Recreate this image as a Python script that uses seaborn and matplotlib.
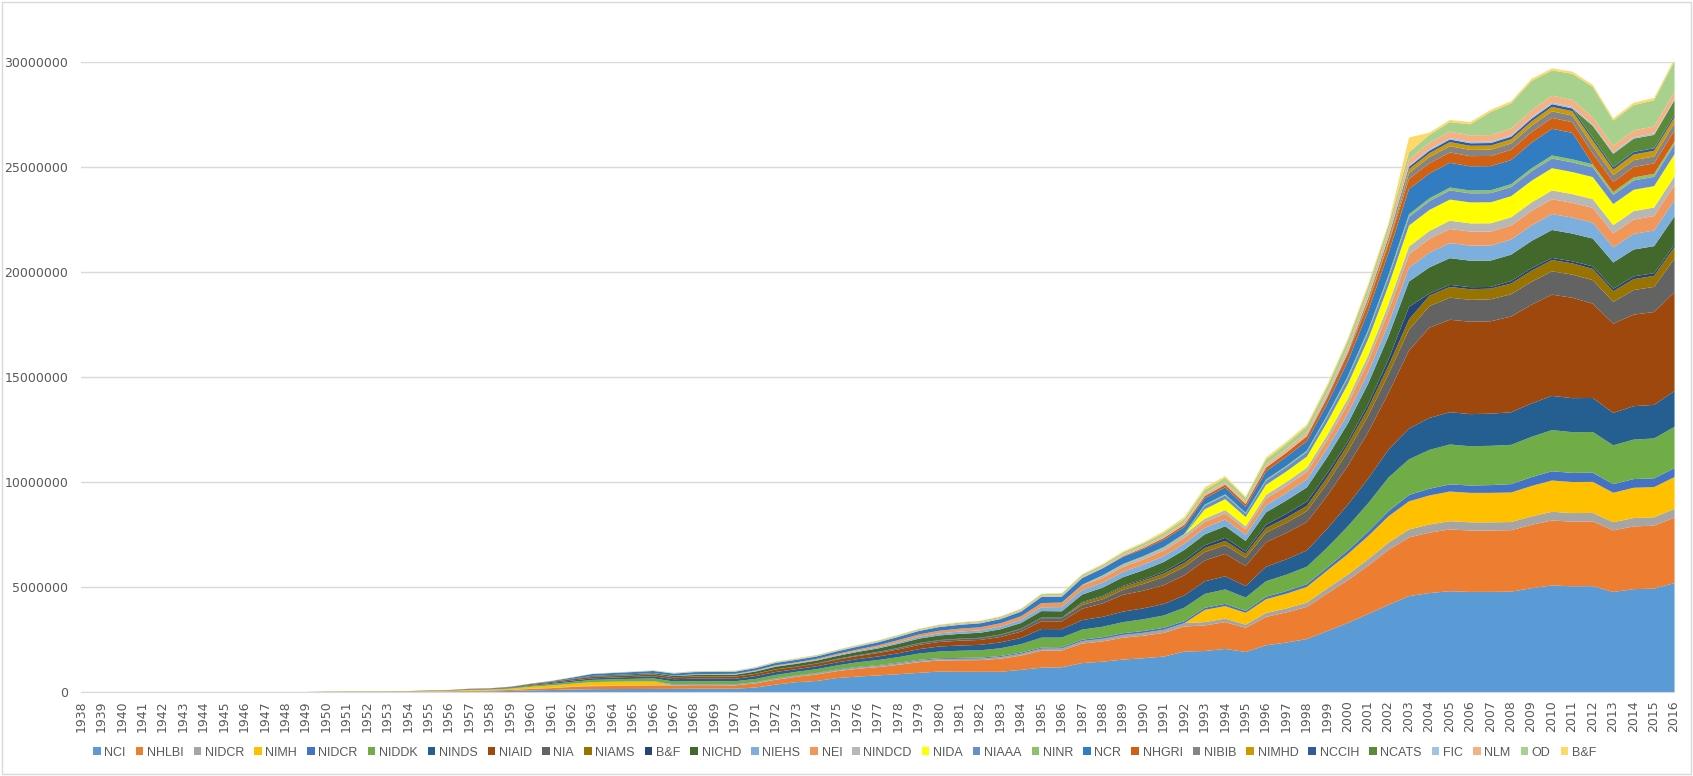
import matplotlib
matplotlib.use("Agg")
import matplotlib.pyplot as plt
from matplotlib.patches import Rectangle
from matplotlib.ticker import FuncFormatter
import seaborn as sns
import pandas as pd

# appropriations by institute, $ millions, 1938-2016 (one row per decade)
years = list(range(1938, 2017))

nci = [0, 0, 0, 0, 0, 0, 0, 0, 0, 0,
       0, 8, 20, 20, 18, 18, 20, 30, 36, 48,
       56, 75, 105, 120, 145, 160, 165, 168, 172, 175,
       183, 185, 181, 240, 379, 492, 551, 691, 762, 815,
       872, 937, 998, 989, 986, 987, 1081, 1183, 1203, 1403,
       1469, 1570, 1634, 1714, 1952, 1978, 2077, 1930, 2248, 2382,
       2547, 2927, 3314, 3741, 4177, 4592, 4736, 4825, 4791, 4792,
       4805, 4969, 5098, 5059, 5067, 4789, 4923, 4950, 5214]
nhlbi = [0, 0, 0, 0, 0, 0, 0, 0, 0, 0,
         0, 5, 11, 10, 10, 12, 15, 20, 22, 34,
         35, 46, 68, 88, 120, 140, 145, 148, 152, 158,
         165, 162, 160, 195, 232, 256, 309, 328, 370, 397,
         448, 510, 527, 549, 558, 624, 680, 805, 800, 930,
         965, 1040, 1072, 1127, 1194, 1214, 1277, 1150, 1355, 1433,
         1531, 1793, 2030, 2300, 2620, 2793, 2878, 2941, 2922, 2922,
         2925, 3015, 3096, 3076, 3076, 2933, 2988, 2996, 3115]
nidcr = [0, 0, 0, 0, 0, 0, 0, 0, 0, 0,
         0, 1, 2, 2, 2, 2, 2, 3, 3, 6,
         6, 8, 12, 15, 17, 25, 27, 28, 30, 29,
         30, 30, 31, 37, 45, 45, 47, 50, 57, 63,
         67, 71, 68, 69, 72, 79, 88, 100, 97, 120,
         125, 134, 139, 150, 161, 162, 167, 155, 182, 191,
         203, 234, 269, 306, 344, 378, 390, 393, 391, 389,
         390, 402, 413, 410, 410, 389, 398, 398, 414]
nimh = [0, 0, 0, 0, 0, 0, 0, 0, 0, 0,
        0, 6, 9, 10, 10, 11, 12, 18, 20, 35,
        39, 50, 85, 110, 130, 165, 170, 175, 178, 0,
        0, 0, 0, 0, 0, 0, 0, 0, 0, 0,
        0, 0, 0, 0, 0, 0, 0, 0, 0, 0,
        0, 0, 0, 0, 0, 583, 596, 560, 661, 702,
        750, 861, 978, 1106, 1254, 1342, 1381, 1412, 1403, 1405,
        1405, 1450, 1489, 1478, 1478, 1401, 1441, 1440, 1519]
nidcr_b = [0, 0, 0, 0, 0, 0, 0, 0, 0, 0,
           0, 0, 0, 0, 0, 0, 0, 0, 0, 0,
           0, 0, 0, 3, 5, 8, 10, 12, 14, 25,
           20, 20, 20, 22, 24, 25, 27, 28, 30, 32,
           35, 38, 40, 42, 45, 48, 52, 56, 58, 65,
           75, 80, 85, 90, 95, 100, 105, 95, 115, 125,
           130, 140, 170, 210, 250, 300, 320, 340, 350, 370,
           400, 420, 440, 435, 435, 410, 415, 415, 425]
niddk = [0, 0, 0, 0, 0, 0, 0, 0, 0, 0,
         0, 2, 4, 5, 6, 7, 8, 12, 12, 15,
         20, 31, 55, 71, 88, 103, 114, 122, 129, 138,
         143, 144, 146, 153, 160, 168, 179, 196, 221, 240,
         265, 300, 320, 340, 350, 370, 400, 470, 460, 480,
         500, 530, 560, 590, 640, 660, 690, 630, 740, 780,
         830, 950, 1150, 1350, 1600, 1700, 1850, 1900, 1870, 1870,
         1870, 1920, 1960, 1940, 1940, 1850, 1880, 1900, 1970]
ninds = [0, 0, 0, 0, 0, 0, 0, 0, 0, 0,
         0, 1, 2, 3, 4, 4, 4, 7, 10, 19,
         21, 29, 35, 50, 63, 74, 81, 90, 100, 110,
         120, 120, 115, 135, 140, 126, 142, 143, 150, 170,
         185, 210, 240, 250, 260, 280, 300, 410, 400, 450,
         470, 500, 520, 545, 580, 600, 620, 550, 690, 730,
         780, 900, 1030, 1180, 1330, 1470, 1520, 1540, 1530, 1530,
         1550, 1590, 1630, 1620, 1620, 1540, 1590, 1600, 1700]
niaid = [0, 0, 0, 0, 0, 0, 0, 0, 0, 0,
         0, 1, 2, 3, 4, 4, 5, 7, 8, 13,
         15, 19, 40, 43, 56, 69, 66, 73, 77, 85,
         92, 94, 102, 103, 117, 112, 120, 130, 145, 165,
         180, 200, 215, 230, 233, 260, 300, 370, 370, 545,
         640, 800, 840, 900, 960, 990, 1070, 950, 1170, 1260,
         1350, 1570, 1850, 2200, 2700, 3710, 4300, 4400, 4400, 4400,
         4560, 4700, 4820, 4780, 4490, 4250, 4360, 4420, 4710]
nia = [0, 0, 0, 0, 0, 0, 0, 0, 0, 0,
       0, 0, 0, 0, 0, 0, 0, 0, 0, 0,
       0, 0, 0, 0, 0, 0, 0, 0, 0, 0,
       0, 0, 0, 0, 0, 0, 0, 20, 30, 35,
       56, 69, 70, 76, 82, 94, 114, 144, 150, 177,
       195, 239, 323, 386, 400, 401, 417, 390, 454, 486,
       519, 597, 687, 786, 895, 994, 1025, 1052, 1040, 1047,
       1062, 1093, 1110, 1102, 1120, 1040, 1171, 1198, 1600]
niams = [0, 0, 0, 0, 0, 0, 0, 0, 0, 0,
         0, 0, 0, 0, 0, 0, 0, 0, 0, 0,
         0, 0, 0, 0, 0, 0, 0, 0, 0, 0,
         0, 0, 0, 0, 0, 0, 0, 0, 0, 0,
         0, 0, 0, 0, 0, 0, 0, 0, 0, 103,
         126, 140, 152, 168, 190, 193, 200, 190, 220, 230,
         250, 283, 316, 357, 403, 485, 500, 510, 505, 508,
         509, 524, 539, 534, 534, 507, 520, 522, 542]
bf = [0, 0, 0, 0, 0, 0, 0, 0, 0, 0,
      0, 0, 0, 0, 0, 0, 0, 5, 5, 8,
      8, 10, 10, 15, 20, 20, 20, 15, 15, 10,
      10, 8, 8, 10, 10, 12, 12, 15, 15, 18,
      20, 20, 20, 20, 20, 20, 25, 30, 30, 35,
      40, 50, 60, 80, 120, 130, 150, 120, 150, 200,
      200, 200, 150, 200, 300, 600, 100, 100, 100, 80,
      120, 125, 100, 100, 125, 120, 130, 130, 130]
nichd = [0, 0, 0, 0, 0, 0, 0, 0, 0, 0,
         0, 0, 0, 0, 0, 0, 0, 0, 0, 0,
         0, 0, 0, 0, 5, 26, 37, 44, 55, 63,
         70, 76, 83, 105, 126, 130, 136, 142, 154, 165,
         190, 210, 220, 230, 240, 250, 270, 310, 300, 360,
         390, 410, 440, 470, 500, 520, 550, 500, 595, 630,
         680, 760, 860, 975, 1110, 1210, 1245, 1270, 1260, 1255,
         1255, 1295, 1330, 1320, 1320, 1250, 1280, 1286, 1340]
niehs = [0, 0, 0, 0, 0, 0, 0, 0, 0, 0,
         0, 0, 0, 0, 0, 0, 0, 0, 0, 0,
         0, 0, 0, 0, 0, 0, 0, 0, 5, 10,
         15, 18, 20, 24, 28, 30, 34, 40, 50, 60,
         75, 85, 100, 110, 115, 130, 150, 180, 200, 220,
         240, 250, 270, 280, 300, 310, 320, 290, 340, 360,
         380, 420, 470, 530, 600, 660, 700, 720, 720, 715,
         720, 740, 760, 760, 760, 720, 740, 745, 770]
nei = [0, 0, 0, 0, 0, 0, 0, 0, 0, 0,
       0, 0, 0, 0, 0, 0, 0, 0, 0, 0,
       0, 0, 0, 0, 0, 0, 0, 0, 0, 0,
       20, 24, 25, 30, 37, 40, 46, 55, 65, 85,
       105, 115, 125, 135, 145, 155, 170, 200, 200, 220,
       225, 235, 245, 260, 275, 280, 290, 260, 315, 335,
       355, 400, 450, 510, 580, 633, 655, 670, 665, 667,
       667, 689, 703, 702, 702, 666, 684, 689, 716]
nidcd = [0, 0, 0, 0, 0, 0, 0, 0, 0, 0,
         0, 0, 0, 0, 0, 0, 0, 0, 0, 0,
         0, 0, 0, 0, 0, 0, 0, 0, 0, 0,
         0, 0, 0, 0, 0, 0, 0, 0, 0, 0,
         0, 0, 0, 0, 0, 0, 0, 0, 0, 0,
         95, 110, 120, 130, 150, 155, 160, 145, 175, 185,
         200, 230, 265, 300, 340, 370, 380, 395, 392, 394,
         394, 407, 419, 416, 416, 394, 403, 406, 423]
nida = [0, 0, 0, 0, 0, 0, 0, 0, 0, 0,
        0, 0, 0, 0, 0, 0, 0, 0, 0, 0,
        0, 0, 0, 0, 0, 0, 0, 0, 0, 0,
        0, 0, 0, 0, 0, 0, 0, 0, 0, 0,
        0, 0, 0, 0, 0, 0, 0, 0, 0, 0,
        0, 0, 0, 0, 0, 450, 520, 440, 480, 500,
        530, 620, 690, 780, 890, 1000, 1000, 1005, 1000, 1000,
        1001, 1032, 1059, 1052, 1052, 1000, 1016, 1016, 1048]
niaaa = [0, 0, 0, 0, 0, 0, 0, 0, 0, 0,
         0, 0, 0, 0, 0, 0, 0, 0, 0, 0,
         0, 0, 0, 0, 0, 0, 0, 0, 0, 0,
         0, 0, 0, 0, 0, 0, 0, 0, 0, 0,
         0, 0, 0, 0, 0, 0, 0, 0, 0, 0,
         0, 0, 0, 0, 0, 175, 180, 160, 200, 210,
         225, 260, 290, 335, 380, 410, 420, 435, 430, 435,
         437, 450, 462, 459, 459, 435, 446, 447, 467]
ninr = [0, 0, 0, 0, 0, 0, 0, 0, 0, 0,
        0, 0, 0, 0, 0, 0, 0, 0, 0, 0,
        0, 0, 0, 0, 0, 0, 0, 0, 0, 0,
        0, 0, 0, 0, 0, 0, 0, 0, 0, 0,
        0, 0, 0, 0, 0, 0, 0, 0, 16, 25,
        30, 35, 40, 45, 50, 49, 52, 46, 56, 59,
        63, 70, 90, 105, 120, 130, 135, 138, 137, 137,
        137, 142, 146, 145, 145, 137, 141, 141, 146]
ncr = [0, 0, 0, 0, 0, 0, 0, 0, 0, 0,
       0, 0, 0, 0, 0, 0, 0, 0, 0, 0,
       0, 5, 10, 30, 60, 90, 95, 100, 100, 100,
       105, 100, 100, 105, 115, 120, 115, 125, 135, 145,
       155, 165, 175, 185, 190, 200, 220, 290, 280, 320,
       330, 340, 330, 340, 320, 300, 330, 280, 390, 430,
       450, 540, 700, 900, 1050, 1200, 1180, 1180, 1150, 1150,
       1150, 1220, 1270, 1260, 0, 0, 0, 0, 0]
nhgri = [0, 0, 0, 0, 0, 0, 0, 0, 0, 0,
         0, 0, 0, 0, 0, 0, 0, 0, 0, 0,
         0, 0, 0, 0, 0, 0, 0, 0, 0, 0,
         0, 0, 0, 0, 0, 0, 0, 0, 0, 0,
         0, 0, 0, 0, 0, 0, 0, 0, 0, 0,
         0, 28, 60, 87, 105, 106, 127, 135, 170, 190,
         218, 265, 340, 380, 430, 480, 490, 490, 485, 485,
         487, 502, 516, 511, 512, 485, 498, 499, 518]
nibib = [0, 0, 0, 0, 0, 0, 0, 0, 0, 0,
         0, 0, 0, 0, 0, 0, 0, 0, 0, 0,
         0, 0, 0, 0, 0, 0, 0, 0, 0, 0,
         0, 0, 0, 0, 0, 0, 0, 0, 0, 0,
         0, 0, 0, 0, 0, 0, 0, 0, 0, 0,
         0, 0, 0, 0, 0, 0, 0, 0, 0, 0,
         0, 0, 0, 0, 40, 280, 290, 298, 297, 298,
         300, 308, 316, 314, 338, 320, 327, 327, 346]
nimhd = [0, 0, 0, 0, 0, 0, 0, 0, 0, 0,
         0, 0, 0, 0, 0, 0, 0, 0, 0, 0,
         0, 0, 0, 0, 0, 0, 0, 0, 0, 0,
         0, 0, 0, 0, 0, 0, 0, 0, 0, 0,
         0, 0, 0, 0, 0, 0, 0, 0, 0, 0,
         0, 0, 0, 0, 0, 0, 0, 0, 0, 0,
         0, 0, 0, 130, 160, 185, 190, 196, 195, 195,
         200, 206, 211, 210, 276, 262, 268, 269, 280]
nccih = [0, 0, 0, 0, 0, 0, 0, 0, 0, 0,
         0, 0, 0, 0, 0, 0, 0, 0, 0, 0,
         0, 0, 0, 0, 0, 0, 0, 0, 0, 0,
         0, 0, 0, 0, 0, 0, 0, 0, 0, 0,
         0, 0, 0, 0, 0, 0, 0, 0, 0, 0,
         0, 0, 0, 0, 2, 2, 4, 5, 8, 12,
         20, 50, 69, 90, 105, 114, 117, 122, 121, 121,
         122, 126, 129, 128, 128, 121, 124, 124, 130]
ncats = [0, 0, 0, 0, 0, 0, 0, 0, 0, 0,
         0, 0, 0, 0, 0, 0, 0, 0, 0, 0,
         0, 0, 0, 0, 0, 0, 0, 0, 0, 0,
         0, 0, 0, 0, 0, 0, 0, 0, 0, 0,
         0, 0, 0, 0, 0, 0, 0, 0, 0, 0,
         0, 0, 0, 0, 0, 0, 0, 0, 0, 0,
         0, 0, 0, 0, 0, 0, 0, 0, 0, 0,
         0, 0, 0, 0, 575, 633, 633, 635, 686]
fic = [0, 0, 0, 0, 0, 0, 0, 0, 0, 0,
       0, 0, 0, 0, 0, 0, 0, 0, 0, 0,
       0, 0, 0, 0, 0, 0, 0, 0, 0, 0,
       1, 2, 3, 3, 3, 4, 4, 5, 5, 6,
       6, 7, 8, 8, 9, 9, 10, 10, 11, 12,
       13, 14, 15, 16, 18, 18, 19, 17, 21, 23,
       27, 35, 43, 50, 58, 63, 66, 67, 66, 66,
       67, 69, 70, 70, 70, 66, 68, 68, 70]
nlm = [0, 0, 0, 0, 0, 0, 0, 0, 0, 0,
       0, 0, 0, 0, 0, 0, 0, 1, 1, 2,
       2, 2, 2, 3, 3, 4, 5, 10, 12, 15,
       18, 20, 20, 22, 25, 27, 28, 30, 32, 35,
       38, 42, 45, 46, 47, 50, 52, 55, 55, 60,
       65, 72, 80, 85, 90, 95, 105, 100, 130, 145,
       160, 180, 215, 245, 275, 300, 310, 315, 313, 314,
       321, 331, 335, 334, 337, 320, 328, 330, 337]
od = [0, 0, 0, 0, 0, 0, 0, 0, 0, 0,
      0, 0, 0, 0, 0, 0, 0, 2, 3, 4,
      4, 5, 6, 8, 10, 12, 14, 15, 16, 18,
      20, 20, 22, 25, 28, 30, 30, 32, 35, 38,
      40, 42, 45, 48, 50, 55, 60, 70, 75, 80,
      90, 100, 120, 140, 160, 180, 200, 170, 230, 250,
      270, 290, 320, 280, 260, 330, 380, 450, 520, 1100,
      1200, 1400, 1200, 1250, 1450, 1200, 1200, 1250, 1450]
bf_b = [0, 0, 0, 0, 0, 0, 0, 0, 0, 0,
        0, 2, 3, 3, 3, 3, 3, 3, 5, 5,
        5, 5, 5, 5, 5, 5, 5, 5, 5, 5,
        5, 5, 5, 8, 10, 10, 10, 10, 12, 15,
        15, 18, 20, 20, 20, 20, 20, 25, 30, 30,
        40, 45, 50, 80, 100, 120, 80, 70, 100, 100,
        100, 100, 100, 100, 100, 700, 100, 100, 110, 100,
        100, 100, 100, 100, 100, 100, 110, 110, 120]

labels = ["NCI", "NHLBI", "NIDCR", "NIMH", "NIDCR", "NIDDK", "NINDS", "NIAID",
          "NIA", "NIAMS", "B&F", "NICHD", "NIEHS", "NEI", "NINDCD", "NIDA",
          "NIAAA", "NINR", "NCR", "NHGRI", "NIBIB", "NIMHD", "NCCIH", "NCATS",
          "FIC", "NLM", "OD", "B&F"]
series = [nci, nhlbi, nidcr, nimh, nidcr_b, niddk, ninds, niaid, nia, niams,
          bf, nichd, niehs, nei, nidcd, nida, niaaa, ninr, ncr, nhgri, nibib,
          nimhd, nccih, ncats, fic, nlm, od, bf_b]
colors = ["#5B9BD5", "#ED7D31", "#A5A5A5", "#FFC000", "#4472C4", "#70AD47",
          "#255E91", "#9E480E", "#636363", "#997300", "#264478", "#43682B",
          "#7CAFDD", "#F1975A", "#B7B7B7", "#FFFF00", "#698ED0", "#8CC168",
          "#327DC2", "#D26012", "#848484", "#CC9A00", "#335AA1", "#5A8A39",
          "#9DC3E6", "#F4B183", "#A9D18E", "#FFD966"]

# values in thousands of dollars, as on the original axis
df = pd.DataFrame({f"{i:02d}_{lab}": s for i, (lab, s) in enumerate(zip(labels, series))},
                  index=years) * 1000

sns.set_style("white")
plt.rcParams["font.family"] = ["DejaVu Sans"]

fig = plt.figure(figsize=(16.93, 7.76), dpi=100)
ax = fig.add_axes([0.0478, 0.1082, 0.9410, 0.8119])

polys = ax.stackplot(df.index, df.T.values, colors=colors, linewidth=0)

ax.set_xlim(1938, 2016)
ax.set_ylim(0, 30000000)
ax.set_yticks(range(0, 30000001, 5000000))
ax.yaxis.set_major_formatter(FuncFormatter(lambda v, p: f"{int(v)}"))
ax.set_xticks(years)
ax.set_xticklabels([str(y) for y in years], rotation=90)

ax.yaxis.grid(True, color="#D9D9D9", linewidth=1)
ax.set_axisbelow(True)
sns.despine(ax=ax, left=True, top=True, right=True)
ax.spines["bottom"].set_color("#D9D9D9")
ax.tick_params(axis="x", length=4, color="#D9D9D9", labelsize=9,
               labelcolor="#595959", pad=2)
ax.tick_params(axis="y", length=0, labelsize=9, labelcolor="#595959", pad=9)

leg = fig.legend(polys, labels, ncol=28, loc="center left", bbox_to_anchor=(0.055, 0.03),
                 frameon=False, handlelength=0.6, handleheight=0.6,
                 handletextpad=0.3, columnspacing=0.8, borderpad=0, borderaxespad=0,
                 prop={"family": ["Liberation Sans", "DejaVu Sans"], "size": 9})
for t in leg.get_texts():
    t.set_color("#595959")

fig.patches.append(Rectangle((0.001, 0.002), 0.998, 0.996, transform=fig.transFigure,
                             fill=False, edgecolor="#D9D9D9", linewidth=1))

fig.savefig("out.png", dpi=100)
